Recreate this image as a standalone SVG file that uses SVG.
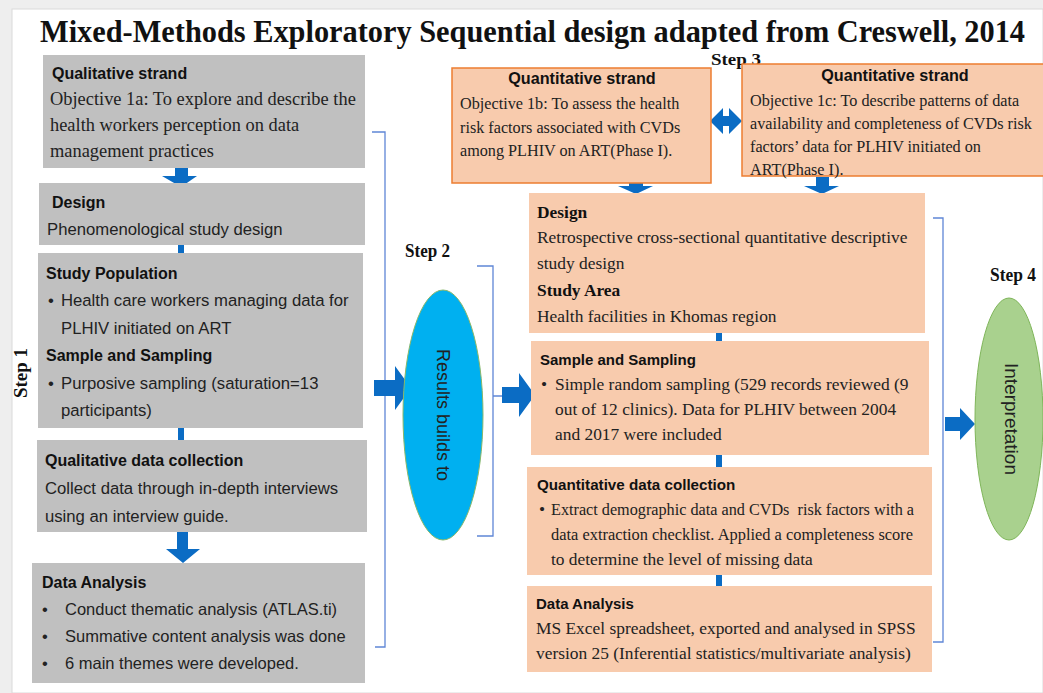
<svg xmlns="http://www.w3.org/2000/svg" width="1043" height="693" viewBox="0 0 1043 693">
<style>
.gray{fill:#c0c0c0}
.peach{fill:#f8cbad}
.peachs{fill:#f8cbad;stroke:#ed7d31;stroke-width:1.5}
.hs{font-family:"Liberation Sans",Arial,sans-serif;font-weight:bold;fill:#111}
.bs{font-family:"Liberation Sans",Arial,sans-serif;fill:#222}
.sf{font-family:"Liberation Serif","Times New Roman",serif;fill:#222}
.sfb{font-family:"Liberation Serif","Times New Roman",serif;font-weight:bold;fill:#111}
.arr{fill:#0b6cc4}
.br{fill:none;stroke:#5f86d6;stroke-width:1.3}
</style>
<rect x="0" y="0" width="1043" height="693" fill="#eeeeee"/>
<rect x="12" y="9" width="1031" height="684" fill="#ffffff" stroke="#dadada" stroke-width="1"/>

<text class="sfb" x="40" y="38.2" font-size="29" transform="scale(1,1.1)" textLength="985" lengthAdjust="spacingAndGlyphs">Mixed-Methods Exploratory Sequential design adapted from Creswell, 2014</text>

<text class="sfb" x="711" y="65" font-size="17" textLength="50" lengthAdjust="spacingAndGlyphs">Step 3</text>
<text class="sfb" x="405" y="257" font-size="18" textLength="45" lengthAdjust="spacingAndGlyphs">Step 2</text>
<text class="sfb" x="990" y="281" font-size="18" textLength="46" lengthAdjust="spacingAndGlyphs">Step 4</text>
<text class="sfb" font-size="18" transform="translate(27,398) rotate(-90)" textLength="50" lengthAdjust="spacingAndGlyphs">Step 1</text>

<g id="connectors">
  <path class="br" d="M372,132 H385 V647 H375"/>
  <path class="br" d="M477,266 H493 V536 H477 M493,396 H510"/>
  <path class="br" d="M933,218 H943 V642 H933"/>
  <rect class="arr" x="178" y="244" width="6" height="10"/>
  <rect class="arr" x="178" y="427" width="6" height="14"/>
  <rect class="arr" x="716" y="332" width="6" height="10"/>
  <rect class="arr" x="716" y="454" width="6" height="14"/>
  <rect class="arr" x="716" y="574" width="6" height="13"/>
  <polygon class="arr" points="175,168 188,168 188,176 197,176 181,187 162,176 175,176"/>
  <polygon class="arr" points="177,532 188,532 188,549 200,549 183,563 166,549 177,549"/>
  <polygon class="arr" points="629,183 643,183 643,186 653,186 636,194 618,186 629,186"/>
  <polygon class="arr" points="816,177 829,177 829,186 839,186 822,194 804,186 816,186"/>
  <polygon class="arr" points="710,121 723,108 723,116 729,116 729,108 742,121 729,134 729,126 723,126 723,134"/>
  <polygon class="arr" points="374,380 395,380 395,366 411,388 395,410 395,396 374,396"/>
  <polygon class="arr" points="502,387 519,387 519,373 535,395 519,417 519,403 502,403"/>
  <polygon class="arr" points="945,417 960,417 960,408 975,424 960,440 960,431 945,431"/>
</g>

<g id="qual-strand">
  <rect class="gray" x="43" y="55" width="322" height="113"/>
  <text class="hs" x="52" y="79" font-size="16">Qualitative strand</text>
  <text class="sf" x="50" y="105" font-size="18.4">Objective 1a: To explore and describe the</text>
  <text class="sf" x="50" y="131" font-size="18.4">health workers perception on data</text>
  <text class="sf" x="50" y="157" font-size="18.4">management practices</text>
</g>

<g id="qual-design">
  <rect class="gray" x="39" y="183" width="326" height="62"/>
  <text class="hs" x="52" y="208" font-size="16">Design</text>
  <text class="bs" x="47" y="235" font-size="16.7">Phenomenological study design</text>
</g>

<g id="qual-population">
  <rect class="gray" x="38" y="253" width="325" height="175"/>
  <text class="hs" x="46" y="279" font-size="16">Study Population</text>
  <text class="bs" x="48" y="306" font-size="16.7">•</text>
  <text class="bs" x="61" y="306" font-size="16.7">Health care workers managing data for</text>
  <text class="bs" x="61" y="334" font-size="16.7">PLHIV initiated on ART</text>
  <text class="hs" x="46" y="361" font-size="16">Sample and Sampling</text>
  <text class="bs" x="48" y="389" font-size="16.7">•</text>
  <text class="bs" x="61" y="389" font-size="16.7">Purposive sampling (saturation=13</text>
  <text class="bs" x="61" y="416" font-size="16.7">participants)</text>
</g>

<g id="qual-collection">
  <rect class="gray" x="37" y="440" width="330" height="92"/>
  <text class="hs" x="45" y="466" font-size="16">Qualitative data collection</text>
  <text class="bs" x="45" y="494" font-size="16.7">Collect data through in-depth interviews</text>
  <text class="bs" x="45" y="522" font-size="16.7">using an interview guide.</text>
</g>

<g id="qual-analysis">
  <rect class="gray" x="32" y="563" width="333" height="120"/>
  <text class="hs" x="42" y="588" font-size="16">Data Analysis</text>
  <text class="bs" x="42" y="615" font-size="16.5">•</text>
  <text class="bs" x="65" y="615" font-size="16.5">Conduct thematic analysis (ATLAS.ti)</text>
  <text class="bs" x="42" y="642" font-size="16.5">•</text>
  <text class="bs" x="65" y="642" font-size="16.5">Summative content analysis was done</text>
  <text class="bs" x="42" y="669" font-size="16.5">•</text>
  <text class="bs" x="65" y="669" font-size="16.5">6 main themes were developed.</text>
</g>

<g id="results-builds">
  <ellipse cx="443" cy="415" rx="40" ry="125" fill="#00b0f0" stroke="#8ab86a" stroke-width="1"/>
  <text class="bs" font-size="18" fill="#222" text-anchor="middle" transform="translate(437,415) rotate(90)">Results builds to</text>
</g>

<g id="quant-1b">
  <rect class="peachs" x="452" y="68" width="259" height="115"/>
  <text class="hs" x="582" y="84" font-size="16.2" text-anchor="middle">Quantitative strand</text>
  <text class="sf" x="460" y="109" font-size="16.2">Objective 1b: To assess the health</text>
  <text class="sf" x="460" y="133" font-size="16.2">risk factors associated with CVDs</text>
  <text class="sf" x="460" y="156" font-size="16.2">among PLHIV on ART(Phase I).</text>
</g>

<g id="quant-1c">
  <rect class="peachs" x="742" y="64" width="310" height="112"/>
  <text class="hs" x="895" y="81" font-size="16.2" text-anchor="middle">Quantitative strand</text>
  <text class="sf" x="750" y="106" font-size="16.2">Objective 1c: To describe patterns of data</text>
  <text class="sf" x="750" y="129" font-size="16.2">availability and completeness of CVDs risk</text>
  <text class="sf" x="750" y="152" font-size="16.2">factors’ data for PLHIV initiated on</text>
  <text class="sf" x="750" y="175" font-size="16.2">ART(Phase I).</text>
</g>

<g id="quant-design">
  <rect class="peach" x="529" y="193" width="396" height="140"/>
  <text class="sfb" x="537" y="218" font-size="17.4">Design</text>
  <text class="sf" x="537" y="243" font-size="17.4">Retrospective cross-sectional quantitative descriptive</text>
  <text class="sf" x="537" y="269" font-size="17.4">study design</text>
  <text class="sfb" x="537" y="296" font-size="17.4">Study Area</text>
  <text class="sf" x="537" y="322" font-size="17.4">Health facilities in Khomas region</text>
</g>

<g id="quant-sampling">
  <rect class="peach" x="531" y="341" width="398" height="114"/>
  <text class="hs" x="540" y="365" font-size="15">Sample and Sampling</text>
  <text class="sf" x="541" y="390" font-size="17.4">•</text>
  <text class="sf" x="555" y="390" font-size="17.4">Simple random sampling (529 records reviewed (9</text>
  <text class="sf" x="555" y="415" font-size="17.4">out of 12 clinics). Data for PLHIV between 2004</text>
  <text class="sf" x="555" y="440" font-size="17.4">and 2017 were included</text>
</g>

<g id="quant-collection">
  <rect class="peach" x="527" y="467" width="405" height="108"/>
  <text class="hs" x="537" y="490" font-size="15.2">Quantitative data collection</text>
  <text class="sf" x="539" y="515" font-size="17.4">•</text>
  <text class="sf" x="551" y="515" font-size="17.4" textLength="363" lengthAdjust="spacingAndGlyphs" xml:space="preserve">Extract demographic data and CVDs  risk factors with a</text>
  <text class="sf" x="551" y="540" font-size="17.4" textLength="362" lengthAdjust="spacingAndGlyphs">data extraction checklist. Applied a completeness score</text>
  <text class="sf" x="551" y="565" font-size="17.4">to determine the level of missing data</text>
</g>

<g id="quant-analysis">
  <rect class="peach" x="527" y="586" width="405" height="86"/>
  <text class="hs" x="536" y="609" font-size="15">Data Analysis</text>
  <text class="sf" x="536" y="634" font-size="17.4">MS Excel spreadsheet, exported and analysed in SPSS</text>
  <text class="sf" x="536" y="659" font-size="17.4">version 25 (Inferential statistics/multivariate analysis)</text>
</g>

<g id="interpretation">
  <ellipse cx="1009" cy="419" rx="34" ry="121" fill="#a9d18e" stroke="#7fb55a" stroke-width="1"/>
  <text class="bs" font-size="19" fill="#222" text-anchor="middle" transform="translate(1005,419) rotate(90)">Interpretation</text>
</g>
</svg>
